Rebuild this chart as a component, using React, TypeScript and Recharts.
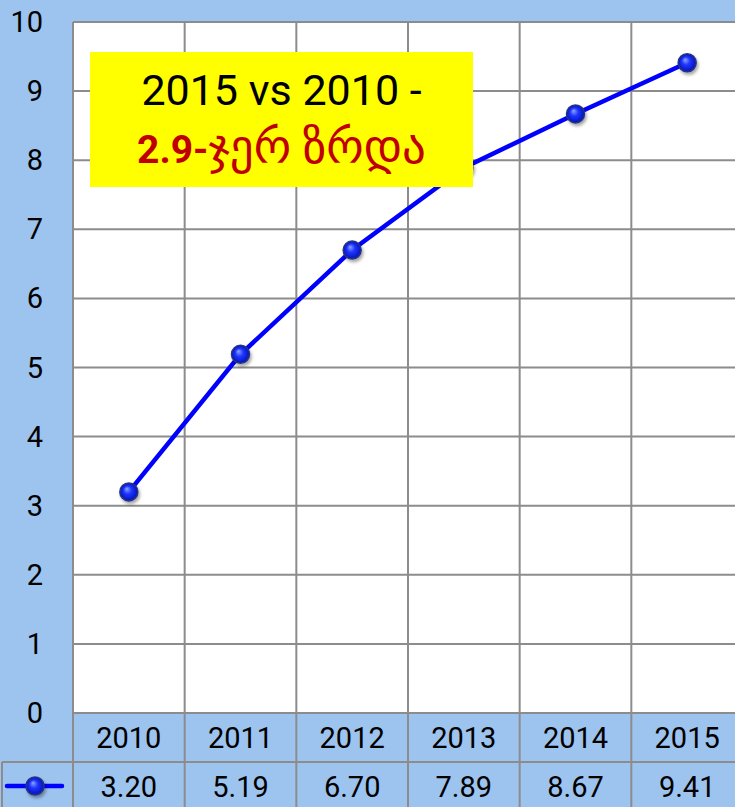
import { CartesianGrid, Line, LineChart, XAxis, YAxis } from "recharts"

const years = ["2010", "2011", "2012", "2013", "2014", "2015"]
const values = [3.2, 5.19, 6.7, 7.89, 8.67, 9.41]
const valueLabels = ["3.20", "5.19", "6.70", "7.89", "8.67", "9.41"]
const yTicks = [0, 1, 2, 3, 4, 5, 6, 7, 8, 9, 10]

const data = years.map((year, i) => ({ year, v: values[i] }))

const CHART_W = 743
const CHART_H = 807
const Y_W = 73
const TOP = 22
const ROW1 = 49
const ROW2 = 45
const GRID = "#8c8c8c"
const BG = "#9dc3ef"
const FONT = "Roboto, 'DejaVu Sans', sans-serif"

function Ball({ cx, cy, r = 9 }: { cx: number; cy: number; r?: number }) {
  return (
    <circle
      cx={cx}
      cy={cy}
      r={r}
      fill="url(#ball)"
      stroke="#27357f"
      strokeWidth={1.5}
      filter="url(#ballShadow)"
    />
  )
}

function YTick({ x, y, payload }: any) {
  return (
    <text x={x - 30} y={y + 10} textAnchor="end" fontSize={29} fontFamily={FONT} fill="#000">
      {payload.value}
    </text>
  )
}

function XTick({ x, y, payload, index }: any) {
  const band = (CHART_W - Y_W) / years.length
  const left = x - band / 2
  const right = x + band / 2
  return (
    <g>
      <text x={x} y={y + 35} textAnchor="middle" fontSize={29} fontFamily={FONT} fill="#000">
        {payload.value}
      </text>
      <text x={x} y={y + 84} textAnchor="middle" fontSize={29} fontFamily={FONT} fill="#000">
        {valueLabels[index]}
      </text>
      <line x1={right} y1={y} x2={right} y2={y + ROW1 + ROW2} stroke={GRID} strokeWidth={2} />
      <line x1={left} y1={y + ROW1} x2={right} y2={y + ROW1} stroke={GRID} strokeWidth={2} />
      {index === 0 && (
        <g>
          <line x1={left} y1={y} x2={left} y2={y + ROW1 + ROW2} stroke={GRID} strokeWidth={2} />
          <line x1={2} y1={y + ROW1} x2={left} y2={y + ROW1} stroke={GRID} strokeWidth={2} />
          <line x1={2} y1={y + ROW1} x2={2} y2={y + ROW1 + ROW2} stroke={GRID} strokeWidth={2} />
          <line
            x1={7}
            y1={y + ROW1 + 24}
            x2={62}
            y2={y + ROW1 + 24}
            stroke="#0000ff"
            strokeWidth={4.5}
            strokeLinecap="round"
          />
          <Ball cx={35} cy={y + ROW1 + 24} />
        </g>
      )}
    </g>
  )
}

export default function App() {
  return (
    <div
      style={{
        position: "absolute",
        left: 0,
        top: 0,
        width: 735,
        height: 807,
        overflow: "hidden",
        background: BG,
      }}
    >
      <LineChart
        width={CHART_W}
        height={CHART_H}
        data={data}
        margin={{ top: TOP, right: 0, bottom: 0, left: 0 }}
      >
        <defs>
          <radialGradient id="ball" cx="50%" cy="50%" r="50%" fx="38%" fy="32%">
            <stop offset="0%" stopColor="#8fa6ff" />
            <stop offset="45%" stopColor="#1f35ff" />
            <stop offset="100%" stopColor="#0012b8" />
          </radialGradient>
          <filter id="ballShadow" x="-50%" y="-50%" width="200%" height="200%">
            <feDropShadow dx="1.5" dy="2.5" stdDeviation="1.8" floodColor="#000" floodOpacity="0.35" />
          </filter>
        </defs>
        <CartesianGrid
          fill="#ffffff"
          stroke={GRID}
          strokeWidth={2}
          verticalCoordinatesGenerator={({ offset }: any) =>
            years.slice(1).map((_, i) => offset.left + ((i + 1) * offset.width) / years.length)
          }
        />
        <XAxis
          dataKey="year"
          scale="band"
          height={ROW1 + ROW2}
          interval={0}
          tickLine={false}
          tickSize={0}
          tickMargin={0}
          axisLine={{ stroke: GRID, strokeWidth: 2 }}
          tick={<XTick />}
        />
        <YAxis
          width={Y_W}
          domain={[0, 10]}
          ticks={yTicks}
          interval={0}
          tickLine={false}
          tickSize={0}
          tickMargin={0}
          axisLine={{ stroke: GRID, strokeWidth: 2 }}
          tick={<YTick />}
        />
        <Line
          type="linear"
          dataKey="v"
          stroke="#0000ff"
          strokeWidth={4.5}
          isAnimationActive={false}
          dot={(p: any) => <Ball key={`d${p.index}`} cx={p.cx} cy={p.cy} />}
          activeDot={false}
        />
      </LineChart>
      <svg
        width={383}
        height={135}
        style={{ position: "absolute", left: 90, top: 52 }}
      >
        <rect width={383} height={135} fill="#ffff00" />
        <text x={191.5} y={53} textAnchor="middle" fontSize={43} fontFamily={FONT} fill="#000">
          2015 vs 2010 -
        </text>
        <text x={191.5} y={111} textAnchor="middle" fontSize={39} fontFamily={FONT} fill="#c00000">
          <tspan fontWeight="bold">2.9-</tspan>
          <tspan fontSize={47}>ჯერ ზრდა</tspan>
        </text>
      </svg>
    </div>
  )
}
